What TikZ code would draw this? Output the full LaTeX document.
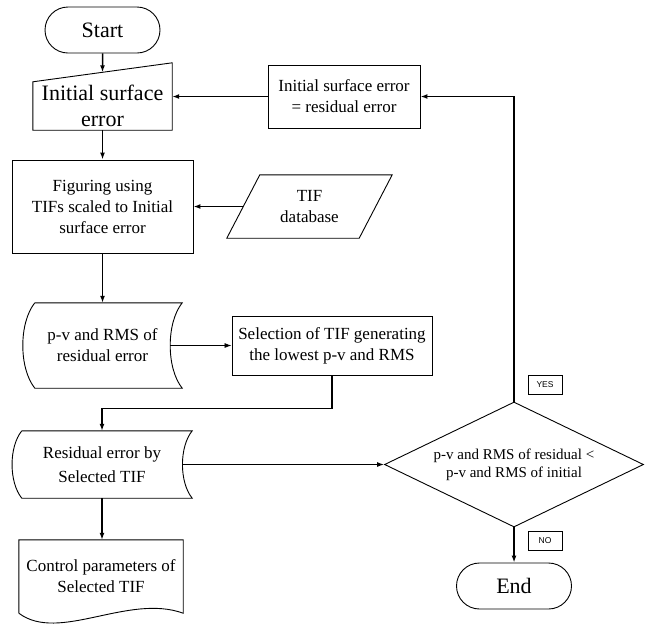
\documentclass[tikz,border=0pt]{standalone}
\usepackage{fontspec}
\setmainfont{Liberation Serif}
\newfontfamily\tagfont{Liberation Sans}
\usetikzlibrary{arrows.meta,shapes.geometric,calc}
\tikzset{
    terminal/.style={draw,rounded corners=23pt,minimum width=115pt,minimum height=46pt,line width=0.9pt,font=\fontsize{22}{26}\selectfont},
    procbox/.style={draw,rectangle,line width=0.9pt,align=center,inner sep=0pt,font=\fontsize{17}{21}\selectfont},
    textonly/.style={align=center,inner sep=0pt,font=\fontsize{17}{21}\selectfont},
    tagbox/.style={draw,line width=0.6pt,minimum width=34pt,minimum height=19pt,inner sep=0pt,font=\tagfont\fontsize{8.5}{10}\selectfont},
    outline/.style={line width=0.9pt},
    flow/.style={line width=1.5pt,-{Latex[length=7pt,width=5pt]}},
    thinflow/.style={line width=0.8pt,-{Latex[length=7pt,width=5pt]}}
}
\begin{document}
\begin{tikzpicture}[x=1pt,y=-1pt]
        \useasboundingbox (0,0) rectangle (650,630);%画布大小
        \node[terminal] (start) at (102.5,30) {Start};
        \node[textonly,font=\fontsize{22}{26}\selectfont,minimum width=139pt,minimum height=48pt] (init) at (102.5,106) {Initial surface\\error};
        \draw[outline] (init.south west) -- (init.south east) -- ([yshift=19pt]init.north east) -- (init.north west) -- cycle;%手动输入框
        \coordinate (initTop) at ($(init.north west)!0.5!([yshift=19pt]init.north east)$);
        \node[procbox,minimum width=181pt,minimum height=93pt] (fig) at (102.5,206.5) {Figuring using\\TIFs scaled to Initial\\surface error};
        \node[textonly,minimum width=132pt,minimum height=63pt] (tif) at (309.5,206.5) {TIF\\database};
        \draw[outline] ([xshift=-16.5pt]tif.south west) -- ([xshift=-16.5pt]tif.south east) -- ([xshift=16.5pt]tif.north east) -- ([xshift=16.5pt]tif.north west) -- cycle;%数据框
        \node[textonly,minimum width=147pt,minimum height=85pt] (pv) at (102.5,345.5) {p-v and RMS of\\residual error};
        \draw[outline] ([xshift=6pt]pv.north west) -- ([xshift=6pt]pv.north east)
            .. controls ([xshift=-10pt,yshift=-20pt]pv.north east) and ([xshift=-10pt,yshift=20pt]pv.south east) .. ([xshift=6pt]pv.south east)
            -- ([xshift=6pt]pv.south west)
            .. controls ([xshift=-10pt,yshift=20pt]pv.south west) and ([xshift=-10pt,yshift=-20pt]pv.north west) .. ([xshift=6pt]pv.north west);
        \node[procbox,minimum width=200pt,minimum height=59pt] (sel) at (332,345.5) {Selection of TIF generating\\the lowest p-v and RMS};
        \node[textonly,font=\fontsize{17}{24}\selectfont,minimum width=170pt,minimum height=67pt] (res) at (102,464.5) {Residual error by\\Selected TIF};
        \draw[outline] ([xshift=5pt]res.north west) -- ([xshift=5pt]res.north east)
            .. controls ([xshift=-8pt,yshift=-16pt]res.north east) and ([xshift=-8pt,yshift=16pt]res.south east) .. ([xshift=5pt]res.south east)
            -- ([xshift=5pt]res.south west)
            .. controls ([xshift=-8pt,yshift=16pt]res.south west) and ([xshift=-8pt,yshift=-16pt]res.north west) .. ([xshift=5pt]res.north west);
        \node[textonly,minimum width=164pt,minimum height=73pt] (ctrl) at (101,576.5) {Control parameters of\\Selected TIF};
        \draw[outline] (ctrl.south west) -- (ctrl.north west) -- (ctrl.north east) -- (ctrl.south east)
            .. controls ([xshift=-55pt,yshift=20pt]ctrl.south east) and ([xshift=40pt,yshift=-30pt]ctrl.south west) .. (ctrl.south west);%文档框
        \node[procbox,minimum width=152pt,minimum height=63pt] (reset) at (344,96.5) {Initial surface error\\= residual error};
        \node[draw,diamond,aspect=2,line width=0.9pt,minimum width=259pt,minimum height=125pt,inner sep=0pt,align=center,font=\fontsize{15}{18}\selectfont] (test) at (514,464.5) {p-v and RMS of residual <\\p-v and RMS of initial};
        \node[terminal] (end) at (514,586) {End};
        \node[tagbox] (yes) at (545,385) {YES};
        \node[tagbox] (no) at (545,541) {NO};
        %连线
        \draw[flow] (start) -- (initTop);
        \draw[flow] (init.south) -- (fig.north);
        \draw[flow] (tif.west) -- (tif.west -| fig.east);
        \draw[flow] (fig.south) -- (pv.north);
        \draw[thinflow] ([xshift=-6pt]pv.east) -- (sel.west);
        \draw[flow] (sel.south) -- ++(0,33) -| (res.north);
        \draw[flow] (res.south) -- (res.south |- ctrl.north);
        \draw[thinflow,line width=1.1pt] ([xshift=-5pt]res.east) -- (test.west);
        \draw[flow] (test.north) |- (reset.east);
        \draw[flow] (reset.west) -- (reset.west -| init.east);
        \draw[flow] (test.south) -- (end.north);
\end{tikzpicture}
\end{document}
